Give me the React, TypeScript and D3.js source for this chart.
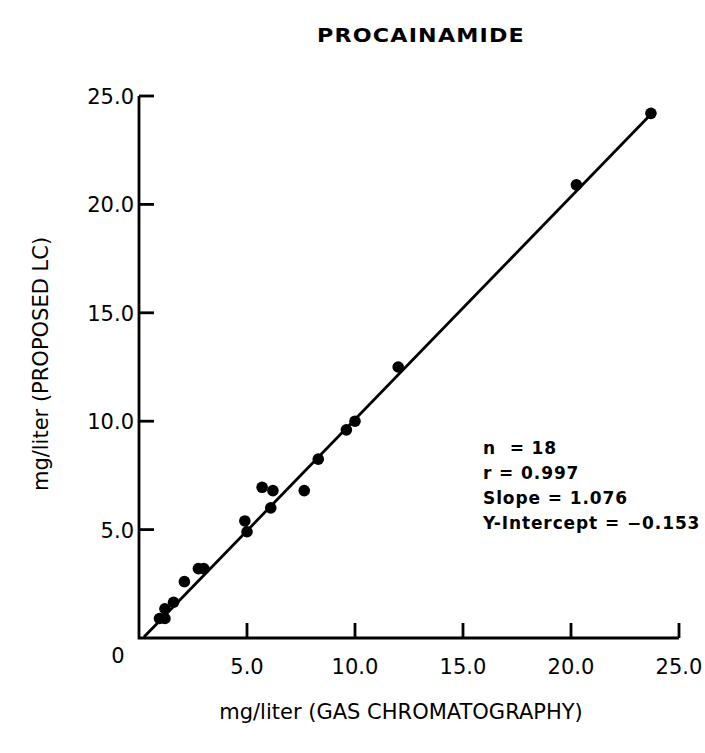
import React from "react";
import * as d3 from "d3";

// Data (mg/liter)
const gcValues = [23.7, 20.25, 12.0, 10.0, 9.6, 8.3, 7.65, 6.2, 5.7, 6.1, 4.9, 5.0, 3.0, 2.75, 2.1, 1.6, 1.2, 0.95, 1.2];
const lcValues = [24.2, 20.9, 12.5, 10.0, 9.6, 8.25, 6.8, 6.8, 6.95, 6.0, 5.4, 4.9, 3.2, 3.2, 2.6, 1.65, 1.35, 0.9, 0.9];
const lineX = [0.23, 23.8];
const lineY = [0.05, 24.26];
const yTicks = [5, 10, 15, 20, 25];
const xTicks = [5, 10, 15, 20, 25];
const statLines = ["n  = 18", "r = 0.997", "Slope = 1.076", "Y-Intercept = \u22120.153"];

const W = 705;
const H = 753;
const FONT = "'DejaVu Sans', sans-serif";

export default function App() {
  const x = d3.scaleLinear().domain([0, 25]).range([139, 679]);
  const y = d3.scaleLinear().domain([0, 25]).range([638, 96]);
  const line = d3
    .line<number>()
    .x((_, i) => x(lineX[i]))
    .y((d) => y(d));
  const fmt = d3.format(".1f");
  const tickLen = 15;

  return (
    <svg
      width={W}
      height={H}
      style={{ position: "absolute", left: 0, top: 0, background: "#fff" }}
    >
      <rect width={W} height={H} fill="#fff" />
      <text
        transform="translate(421,42) scale(1.17,1)"
        textAnchor="middle"
        fontFamily={FONT}
        fontWeight="bold"
        fontSize={19}
        letterSpacing={1}
      >
        PROCAINAMIDE
      </text>

      {/* axes */}
      <path
        d={`M${x(0)},${y(25)} V${y(0)} H${x(25)}`}
        fill="none"
        stroke="#000"
        strokeWidth={2.8}
      />
      {yTicks.map((t) => (
        <g key={"y" + t}>
          <line x1={x(0)} x2={x(0) + tickLen} y1={y(t)} y2={y(t)} stroke="#000" strokeWidth={2.8} />
          <text x={x(0) - 5} y={y(t) + 8} textAnchor="end" fontFamily={FONT} fontSize={21}>
            {fmt(t)}
          </text>
        </g>
      ))}
      {xTicks.map((t) => (
        <g key={"x" + t}>
          <line x1={x(t)} x2={x(t)} y1={y(0)} y2={y(0) - tickLen} stroke="#000" strokeWidth={2.8} />
          <text x={x(t)} y={y(0) + 36} textAnchor="middle" fontFamily={FONT} fontSize={21}>
            {fmt(t)}
          </text>
        </g>
      ))}
      <text x={118} y={y(0) + 25} textAnchor="middle" fontFamily={FONT} fontSize={21}>
        0
      </text>

      {/* axis titles */}
      <text x={401} y={719} textAnchor="middle" fontFamily={FONT} fontSize={21}>
        mg/liter (GAS CHROMATOGRAPHY)
      </text>
      <text
        transform={`translate(48,364) rotate(-90)`}
        textAnchor="middle"
        fontFamily={FONT}
        fontSize={21}
      >
        mg/liter (PROPOSED LC)
      </text>

      {/* regression line */}
      <path d={line(lineY) || ""} fill="none" stroke="#000" strokeWidth={2.8} />

      {/* points */}
      {gcValues.map((g, i) => (
        <circle key={i} cx={x(g)} cy={y(lcValues[i])} r={5.8} fill="#000" />
      ))}

      {/* stats */}
      {statLines.map((s, i) => (
        <text
          key={s}
          x={483}
          y={454 + i * 25}
          fontFamily={FONT}
          fontWeight="bold"
          fontSize={17}
          letterSpacing={0.9}
          xmlSpace="preserve"
          style={{ whiteSpace: "pre" }}
        >
          {s}
        </text>
      ))}
    </svg>
  );
}
